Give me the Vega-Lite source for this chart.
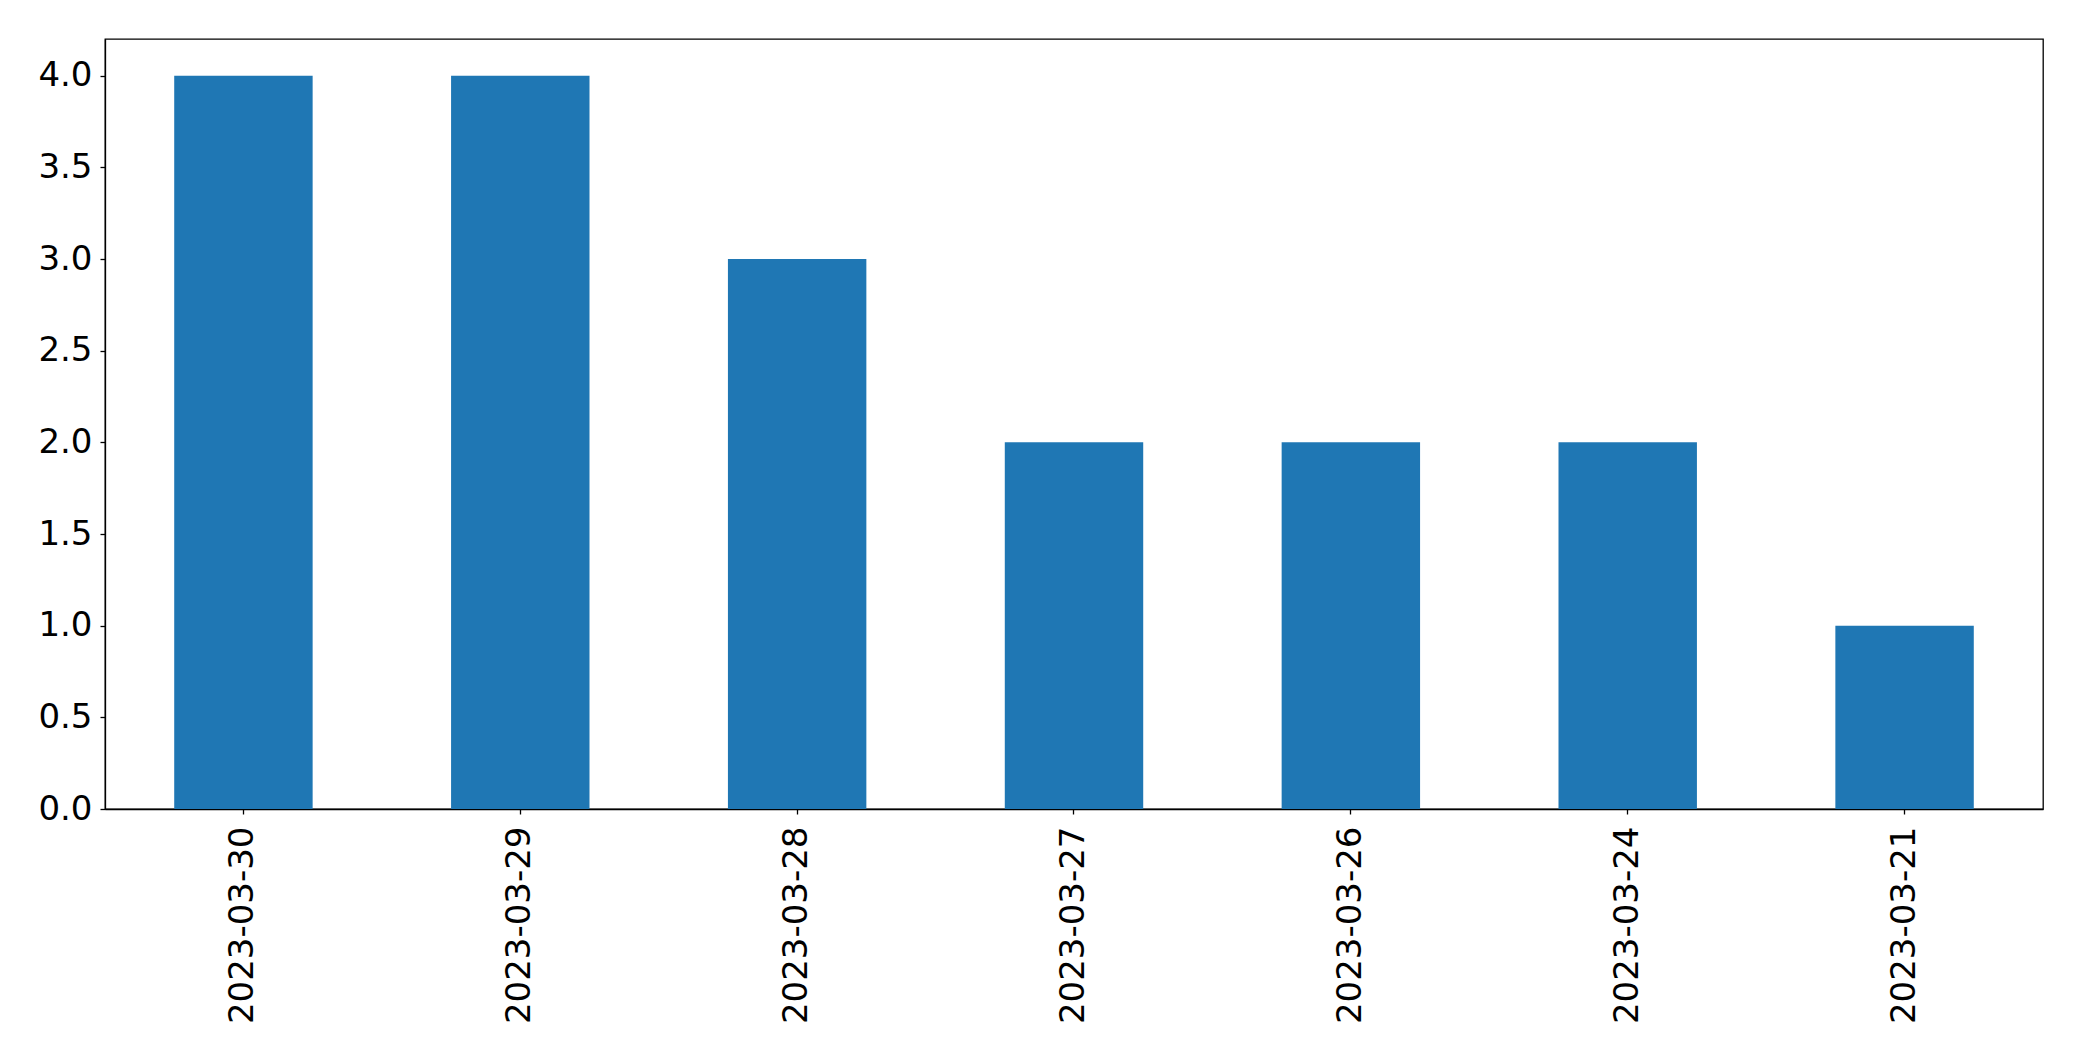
{
  "$schema": "https://vega.github.io/schema/vega-lite/v6.json",
  "width": 1938,
  "height": 770,
  "autosize": "none",
  "padding": {"left": 105, "top": 39, "right": 39, "bottom": 252},
  "background": "white",
  "config": {
    "view": {"stroke": "black", "strokeWidth": 1.3},
    "font": "DejaVu Sans"
  },
  "data": {
    "values": [
      {"date": "2023-03-30", "count": 4},
      {"date": "2023-03-29", "count": 4},
      {"date": "2023-03-28", "count": 3},
      {"date": "2023-03-27", "count": 2},
      {"date": "2023-03-26", "count": 2},
      {"date": "2023-03-24", "count": 2},
      {"date": "2023-03-21", "count": 1}
    ]
  },
  "mark": {"type": "bar", "color": "#1f77b4"},
  "encoding": {
    "x": {
      "field": "date",
      "type": "nominal",
      "sort": null,
      "scale": {"paddingInner": 0.5, "paddingOuter": 0.25},
      "axis": {
        "title": null,
        "labelAngle": 270,
        "labelAlign": "right",
        "labelBaseline": "middle",
        "labelFontSize": 34,
        "labelLimit": 0,
        "labelColor": "black",
        "labelPadding": 12,
        "tickColor": "black",
        "tickSize": 5,
        "tickWidth": 1.3,
        "domainColor": "black",
        "domainWidth": 1.3,
        "grid": false
      }
    },
    "y": {
      "field": "count",
      "type": "quantitative",
      "scale": {"domain": [0, 4.2], "nice": false},
      "axis": {
        "title": null,
        "values": [0, 0.5, 1, 1.5, 2, 2.5, 3, 3.5, 4],
        "format": ".1f",
        "labelFontSize": 34,
        "labelColor": "black",
        "labelPadding": 8,
        "tickColor": "black",
        "tickSize": 5,
        "tickWidth": 1.3,
        "domainColor": "black",
        "domainWidth": 1.3,
        "grid": false
      }
    }
  }
}
